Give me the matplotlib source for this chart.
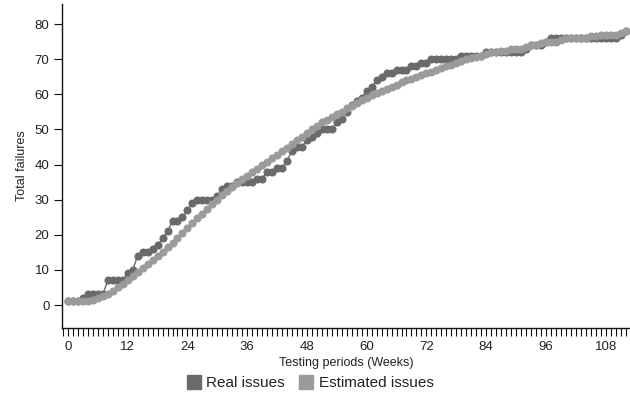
import matplotlib
matplotlib.use("Agg")
import matplotlib.pyplot as plt
from matplotlib.lines import Line2D

plt.rcParams['font.family'] = ['Liberation Sans', 'DejaVu Sans']

weeks = list(range(0, 113))

real_issues = [1, 1, 1, 2, 3, 3, 3, 3, 7, 7, 7, 7, 9, 10, 14, 15, 15, 16, 17, 19,
               21, 24, 24, 25, 27, 29, 30, 30, 30, 30, 31, 33, 34, 34, 35, 35, 35, 35, 36, 36,
               38, 38, 39, 39, 41, 44, 45, 45, 47, 48, 49, 50, 50, 50, 52, 53, 55, 57, 58, 59,
               61, 62, 64, 65, 66, 66, 67, 67, 67, 68, 68, 69, 69, 70, 70, 70, 70, 70, 70, 71,
               71, 71, 71, 71, 72, 72, 72, 72, 72, 72, 72, 72, 73, 74, 74, 74, 75, 76, 76, 76,
               76, 76, 76, 76, 76, 76, 76, 76, 76, 76, 76, 77, 78]

estimated_issues = [1, 1, 1, 1, 1, 1.5, 2, 2.5, 3, 4, 5, 6, 7.2, 8.3, 9.4, 10.5, 11.6, 12.8, 14, 15.2,
                    16.4, 17.6, 19, 20.5, 22, 23.3, 24.7, 26, 27.4, 28.7, 30, 31.2, 32.5, 33.6, 34.8, 35.8, 36.8, 37.8, 38.8, 39.8,
                    40.8, 41.8, 42.8, 43.8, 44.8, 46, 47, 48, 49, 50, 51, 52, 52.8, 53.5, 54.3, 55, 56, 56.8, 57.5, 58.3,
                    59, 59.8, 60.5, 61, 61.5, 62, 62.8, 63.5, 64, 64.5, 65, 65.5, 66, 66.5, 67, 67.5, 68, 68.5, 69, 69.5,
                    70, 70.3, 70.7, 71, 71.5, 72, 72, 72.5, 72.5, 73, 73, 73, 73.5, 74, 74, 74.5, 75, 75, 75, 75.5,
                    76, 76, 76, 76, 76, 76.5, 76.5, 77, 77, 77, 77, 77.5, 78]

y_ticks = [0, 10, 20, 30, 40, 50, 60, 70, 80]
x_ticks = [0, 12, 24, 36, 48, 60, 72, 84, 96, 108]

dark = '#6a6a6a'
light = '#9b9b9b'
text_c = '#222222'

fig = plt.figure(figsize=(6.3, 3.96), dpi=100)
ax = fig.add_axes([62/630, 68/396, 568/630, 324/396])

ax.plot(weeks, real_issues, color=dark, lw=1.0, marker='o', ms=4.8, mec=dark, mfc=dark,
        label='Real issues', zorder=3, clip_on=False)
ax.plot(weeks, estimated_issues, color=light, lw=1.0, marker='o', ms=4.8, mec=light, mfc=light,
        label='Estimated issues', zorder=3, clip_on=False)

ax.set_xlim(-1.2, 112.9)
ax.set_ylim(-6.55, 85.75)

ax.set_yticks(y_ticks)
ax.set_xticks(x_ticks)
ax.set_xticks(list(range(-1, 113)), minor=True)
ax.tick_params(axis='x', which='both', direction='out', length=6, width=0.8, color='#111111',
               labelsize=9.5, labelcolor=text_c, pad=3)
ax.tick_params(axis='y', direction='out', length=6, width=0.8, color='#111111',
               labelsize=9.5, labelcolor=text_c, pad=3)

for s in ['top', 'right']:
    ax.spines[s].set_visible(False)
for s in ['left', 'bottom']:
    ax.spines[s].set_linewidth(1.0)
    ax.spines[s].set_color('#111111')

ax.set_xlabel('Testing periods (Weeks)', fontsize=9, color=text_c, labelpad=3)
ax.set_ylabel('Total failures', fontsize=9, color=text_c, labelpad=5)

handles = [Line2D([], [], color=dark, marker='s', ls='none', ms=10),
           Line2D([], [], color=light, marker='s', ls='none', ms=10)]
fig.legend(handles, ['Real issues', 'Estimated issues'], loc='center', bbox_to_anchor=(310/630, 1 - 383/396),
           ncol=2, frameon=False, fontsize=11, handletextpad=0.3, columnspacing=0.9,
           handlelength=1.0, labelcolor=text_c)

fig.savefig('out.png', dpi=100)
